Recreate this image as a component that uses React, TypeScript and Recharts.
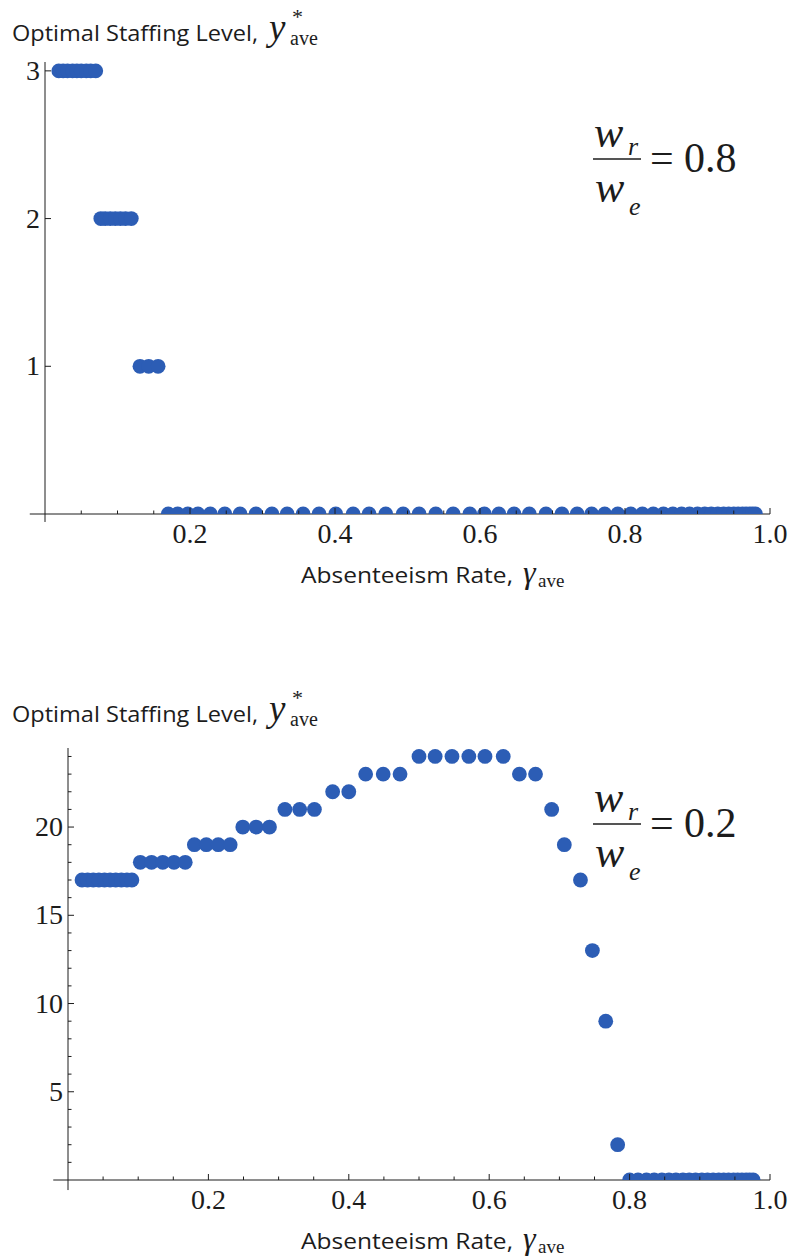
import { ReferenceLine, Scatter, ScatterChart, XAxis, YAxis } from "recharts";

// w_r / w_e = 0.8
const gammaHigh = [
  0.019, 0.025, 0.031, 0.038, 0.044, 0.05, 0.057, 0.063, 0.07,
  0.077, 0.083, 0.09, 0.097, 0.104, 0.111, 0.119,
  0.131, 0.143, 0.156,
  0.17, 0.183, 0.197, 0.211, 0.228, 0.248, 0.269, 0.291, 0.313, 0.334,
  0.356, 0.378, 0.401, 0.425, 0.447, 0.47, 0.494, 0.516, 0.539, 0.563,
  0.586, 0.606, 0.626, 0.647, 0.668, 0.691, 0.713, 0.734, 0.754, 0.772,
  0.79, 0.808, 0.824, 0.839, 0.853, 0.866, 0.878, 0.889, 0.9, 0.91,
  0.919, 0.928, 0.936, 0.943, 0.95, 0.956, 0.962, 0.967, 0.972, 0.976, 0.98,
];
const staffHigh = [
  3, 3, 3, 3, 3, 3, 3, 3, 3,
  2, 2, 2, 2, 2, 2, 2,
  1, 1, 1,
  0, 0, 0, 0, 0, 0, 0, 0, 0, 0,
  0, 0, 0, 0, 0, 0, 0, 0, 0, 0,
  0, 0, 0, 0, 0, 0, 0, 0, 0, 0,
  0, 0, 0, 0, 0, 0, 0, 0, 0, 0,
  0, 0, 0, 0, 0, 0, 0, 0, 0, 0, 0,
];

// w_r / w_e = 0.2
const gammaLow = [
  0.02, 0.028, 0.036, 0.044, 0.052, 0.06, 0.068, 0.076, 0.084, 0.091,
  0.103, 0.119, 0.135, 0.151, 0.167,
  0.18, 0.197, 0.214, 0.231,
  0.249, 0.268, 0.287,
  0.309, 0.33, 0.351,
  0.377, 0.4,
  0.424, 0.449, 0.473,
  0.5, 0.523, 0.547, 0.571, 0.594, 0.62,
  0.643, 0.666,
  0.689, 0.707, 0.73, 0.747, 0.766, 0.783,
  0.8, 0.812, 0.824, 0.835, 0.846, 0.856, 0.866, 0.876, 0.885, 0.894,
  0.903, 0.911, 0.919, 0.927, 0.934, 0.941, 0.948, 0.954, 0.96, 0.966,
  0.971, 0.976,
];
const staffLow = [
  17, 17, 17, 17, 17, 17, 17, 17, 17, 17,
  18, 18, 18, 18, 18,
  19, 19, 19, 19,
  20, 20, 20,
  21, 21, 21,
  22, 22,
  23, 23, 23,
  24, 24, 24, 24, 24, 24,
  23, 23,
  21, 19, 17, 13, 9, 2,
  0, 0, 0, 0, 0, 0, 0, 0, 0, 0,
  0, 0, 0, 0, 0, 0, 0, 0, 0, 0,
  0, 0,
];

const xTicks = [
  0.05, 0.1, 0.15, 0.2, 0.25, 0.3, 0.35, 0.4, 0.45, 0.5,
  0.55, 0.6, 0.65, 0.7, 0.75, 0.8, 0.85, 0.9, 0.95, 1.0,
];
const xMajor = [0.2, 0.4, 0.6, 0.8, 1.0];
const yTicksHigh = [1, 2, 3];
const yTicksLow = [
  1, 2, 3, 4, 5, 6, 7, 8, 9, 10, 11, 12,
  13, 14, 15, 16, 17, 18, 19, 20, 21, 22, 23, 24,
];
const yMajorLow = [5, 10, 15, 20];

const INK = "#1c1c1c";
const DOT = "#2c5db5";
const SERIF = "'Liberation Serif', 'Times New Roman', serif";
const SANS = "'Open Sans', 'Noto Sans', sans-serif";

const highData = gammaHigh.map((g, i) => ({ gamma: g, staff: staffHigh[i] }));
const lowData = gammaLow.map((g, i) => ({ gamma: g, staff: staffLow[i] }));

const dotShape = (p: any) => <circle cx={p.cx} cy={p.cy} fill={DOT} r={7.4} />;

const makeXTick = (p: any) => {
  const v = p.payload.value;
  const major = xMajor.some((m) => Math.abs(m - v) < 1e-6);
  return (
    <g>
      <line stroke={INK} x1={p.x} x2={p.x} y1={p.y} y2={p.y - (major ? 6 : 3.5)} />
      {major && (
        <text
          fill={INK}
          fontFamily={SERIF}
          fontSize={28}
          textAnchor="middle"
          x={p.x}
          y={p.y + 29}
        >
          {v.toFixed(1)}
        </text>
      )}
    </g>
  );
};

const makeYTick = (majors: number[]) => (p: any) => {
  const v = p.payload.value;
  const major = majors.includes(v);
  return (
    <g>
      <line stroke={INK} x1={p.x} x2={p.x + (major ? 6 : 3.5)} y1={p.y} y2={p.y} />
      {major && (
        <text
          fill={INK}
          fontFamily={SERIF}
          fontSize={28}
          textAnchor="end"
          x={p.x - 5}
          y={p.y + 9}
        >
          {v}
        </text>
      )}
    </g>
  );
};

function Ratio({ dy, value }: { dy: number; value: string }) {
  return (
    <g fill={INK} fontFamily={SERIF}>
      <text fontSize={44} fontStyle="italic" x={594} y={812 + dy}>w</text>
      <text fontSize={26} fontStyle="italic" x={628} y={820 + dy}>r</text>
      <line stroke={INK} strokeWidth={1.5} x1={593} x2={641} y1={824 + dy} y2={824 + dy} />
      <text fontSize={44} fontStyle="italic" x={595} y={867 + dy}>w</text>
      <text fontSize={26} fontStyle="italic" x={629} y={880 + dy}>e</text>
      <text fontSize={42} x={650} y={837 + dy}>=</text>
      <text fontSize={42} x={684} y={837 + dy}>{value}</text>
    </g>
  );
}

function YTitle({ dy }: { dy: number }) {
  return (
    <g fill={INK}>
      <text
        fontFamily={SANS}
        fontSize={22}
        lengthAdjust="spacingAndGlyphs"
        textLength={246}
        x={12}
        y={41 + dy}
      >
        Optimal Staffing Level,
      </text>
      <text fontFamily={SERIF} fontSize={37} fontStyle="italic" x={269} y={40 + dy}>y</text>
      <text fontFamily={SERIF} fontSize={22} x={292} y={24 + dy}>*</text>
      <text fontFamily={SERIF} fontSize={20} x={290} y={45 + dy}>ave</text>
    </g>
  );
}

function XTitle({ dy }: { dy: number }) {
  return (
    <g fill={INK}>
      <text
        fontFamily={SANS}
        fontSize={21}
        lengthAdjust="spacingAndGlyphs"
        textLength={212}
        x={301}
        y={583 + dy}
      >
        Absenteeism Rate,
      </text>
      <text fontFamily={SERIF} fontSize={32} fontStyle="italic" x={523} y={583 + dy}>γ</text>
      <text fontFamily={SERIF} fontSize={19} x={538} y={587 + dy}>ave</text>
    </g>
  );
}

export default function App() {
  return (
    <div
      style={{
        position: "absolute",
        left: 0,
        top: 0,
        width: 795,
        height: 1260,
        background: "#fff",
      }}
    >
      <div style={{ position: "absolute", left: 0, top: 0 }}>
        <ScatterChart height={560} margin={{ top: 62, right: 25, bottom: 0, left: 0 }} width={795}>
          <XAxis
            allowDataOverflow
            axisLine={false}
            dataKey="gamma"
            domain={[0, 1]}
            height={46}
            interval={0}
            tick={makeXTick}
            tickLine={false}
            tickMargin={0}
            tickSize={0}
            ticks={xTicks}
            type="number"
          />
          <YAxis
            allowDataOverflow
            axisLine={false}
            dataKey="staff"
            domain={[0, 3.06]}
            interval={0}
            tick={makeYTick(yTicksHigh)}
            tickLine={false}
            tickMargin={0}
            tickSize={0}
            ticks={yTicksHigh}
            type="number"
            width={45}
          />
          <Scatter data={highData} isAnimationActive={false} shape={dotShape} />
          <ReferenceLine
            ifOverflow="visible"
            segment={[{ x: -0.021, y: 0 }, { x: 1, y: 0 }]}
            stroke={INK}
          />
          <ReferenceLine
            ifOverflow="visible"
            segment={[{ x: 0, y: -0.054 }, { x: 0, y: 3.06 }]}
            stroke={INK}
          />
        </ScatterChart>
      </div>
      <div style={{ position: "absolute", left: 0, top: 690 }}>
        <ScatterChart height={540} margin={{ top: 58, right: 25, bottom: 0, left: 0 }} width={795}>
          <XAxis
            allowDataOverflow
            axisLine={false}
            dataKey="gamma"
            domain={[0, 1]}
            height={50}
            interval={0}
            tick={makeXTick}
            tickLine={false}
            tickMargin={0}
            tickSize={0}
            ticks={xTicks}
            type="number"
          />
          <YAxis
            allowDataOverflow
            axisLine={false}
            dataKey="staff"
            domain={[0, 24.48]}
            interval={0}
            tick={makeYTick(yMajorLow)}
            tickLine={false}
            tickMargin={0}
            tickSize={0}
            ticks={yTicksLow}
            type="number"
            width={68}
          />
          <Scatter data={lowData} isAnimationActive={false} shape={dotShape} />
          <ReferenceLine
            ifOverflow="visible"
            segment={[{ x: -0.021, y: 0 }, { x: 1, y: 0 }]}
            stroke={INK}
          />
          <ReferenceLine
            ifOverflow="visible"
            segment={[{ x: 0, y: -0.57 }, { x: 0, y: 24.48 }]}
            stroke={INK}
          />
        </ScatterChart>
      </div>
      <svg
        height={1260}
        style={{ position: "absolute", left: 0, top: 0, pointerEvents: "none" }}
        width={795}
      >
        <YTitle dy={0} />
        <YTitle dy={681} />
        <XTitle dy={0} />
        <XTitle dy={666} />
        <Ratio dy={-665} value="0.8" />
        <Ratio dy={0} value="0.2" />
      </svg>
    </div>
  );
}
